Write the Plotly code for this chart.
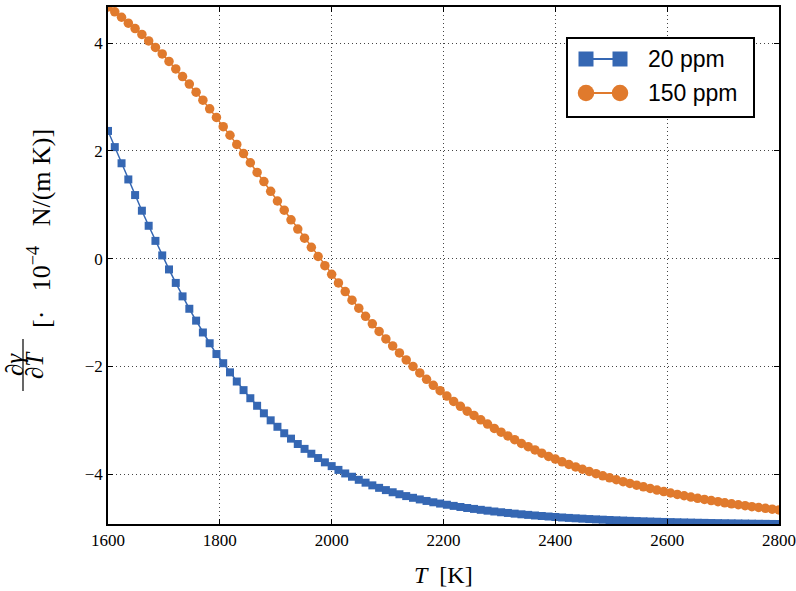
import plotly.graph_objects as go

# Temperature grid (K)
temperature_K = [
    1600.00, 1612.12, 1624.24, 1636.36, 1648.48, 1660.61, 1672.73, 1684.85, 1696.97, 1709.09,
    1721.21, 1733.33, 1745.45, 1757.58, 1769.70, 1781.82, 1793.94, 1806.06, 1818.18, 1830.30,
    1842.42, 1854.55, 1866.67, 1878.79, 1890.91, 1903.03, 1915.15, 1927.27, 1939.39, 1951.52,
    1963.64, 1975.76, 1987.88, 2000.00, 2012.12, 2024.24, 2036.36, 2048.48, 2060.61, 2072.73,
    2084.85, 2096.97, 2109.09, 2121.21, 2133.33, 2145.45, 2157.58, 2169.70, 2181.82, 2193.94,
    2206.06, 2218.18, 2230.30, 2242.42, 2254.55, 2266.67, 2278.79, 2290.91, 2303.03, 2315.15,
    2327.27, 2339.39, 2351.52, 2363.64, 2375.76, 2387.88, 2400.00, 2412.12, 2424.24, 2436.36,
    2448.48, 2460.61, 2472.73, 2484.85, 2496.97, 2509.09, 2521.21, 2533.33, 2545.45, 2557.58,
    2569.70, 2581.82, 2593.94, 2606.06, 2618.18, 2630.30, 2642.42, 2654.55, 2666.67, 2678.79,
    2690.91, 2703.03, 2715.15, 2727.27, 2739.39, 2751.52, 2763.64, 2775.76, 2787.88, 2800.00,
]

# d(gamma)/dT in units of 1e-4 N/(m K)
dgamma_20ppm = [
    2.37, 2.07, 1.77, 1.47, 1.18, 0.89, 0.61, 0.33, 0.06, -0.20,
    -0.45, -0.70, -0.93, -1.15, -1.37, -1.57, -1.77, -1.94, -2.11, -2.28,
    -2.44, -2.59, -2.73, -2.87, -3.00, -3.12, -3.24, -3.34, -3.44, -3.53,
    -3.62, -3.70, -3.78, -3.85, -3.92, -3.986, -4.047, -4.104, -4.157, -4.207,
    -4.253, -4.295, -4.335, -4.372, -4.406, -4.438, -4.468, -4.496, -4.521, -4.545,
    -4.567, -4.588, -4.608, -4.627, -4.644, -4.661, -4.677, -4.692, -4.706, -4.719,
    -4.732, -4.744, -4.755, -4.766, -4.776, -4.785, -4.794, -4.803, -4.811, -4.818,
    -4.825, -4.832, -4.838, -4.844, -4.850, -4.855, -4.860, -4.865, -4.870, -4.874,
    -4.878, -4.882, -4.886, -4.889, -4.892, -4.895, -4.898, -4.901, -4.903, -4.906,
    -4.908, -4.910, -4.912, -4.914, -4.916, -4.918, -4.920, -4.921, -4.923, -4.924,
]

dgamma_150ppm = [
    4.67, 4.58, 4.48, 4.37, 4.27, 4.16, 4.04, 3.92, 3.80, 3.66,
    3.52, 3.38, 3.24, 3.09, 2.94, 2.78, 2.62, 2.45, 2.29, 2.12,
    1.95, 1.78, 1.60, 1.43, 1.25, 1.07, 0.90, 0.72, 0.55, 0.38,
    0.21, 0.04, -0.13, -0.29, -0.45, -0.61, -0.77, -0.92, -1.07, -1.21,
    -1.35, -1.49, -1.62, -1.75, -1.88, -2.00, -2.12, -2.24, -2.35, -2.45,
    -2.55, -2.65, -2.74, -2.83, -2.91, -2.99, -3.07, -3.15, -3.22, -3.29,
    -3.36, -3.43, -3.49, -3.55, -3.61, -3.67, -3.72, -3.77, -3.82, -3.865,
    -3.908, -3.950, -3.990, -4.029, -4.067, -4.103, -4.138, -4.172, -4.204, -4.235,
    -4.265, -4.294, -4.322, -4.349, -4.375, -4.400, -4.424, -4.447, -4.469, -4.490,
    -4.510, -4.530, -4.549, -4.567, -4.585, -4.602, -4.618, -4.634, -4.649, -4.662,
]

series_names = ["20 ppm", "150 ppm"]
x_ticks = [1600, 1800, 2000, 2200, 2400, 2600, 2800]
y_ticks = [-4, -2, 0, 2, 4]

BLUE = "#3567b3"
ORANGE = "#e07a2d"
SERIF = "Liberation Serif"
SANS = "Liberation Sans"

W, H = 796, 591
L, R, T, B = 108, 17, 7, 67
PW, PH = W - L - R, H - T - B


def fx(px):
    """Figure pixel x -> paper coordinate."""
    return (px - L) / PW


def fy(py):
    """Figure pixel y -> paper coordinate."""
    return (H - B - py) / PH


fig = go.Figure()
fig.add_trace(go.Scatter(
    x=temperature_K, y=dgamma_20ppm, mode="lines+markers", name=series_names[0],
    line=dict(color=BLUE, width=1.5),
    marker=dict(symbol="square", size=8, color=BLUE, line=dict(width=0)),
    showlegend=False,
))
fig.add_trace(go.Scatter(
    x=temperature_K, y=dgamma_150ppm, mode="lines+markers", name=series_names[1],
    line=dict(color=ORANGE, width=1.5),
    marker=dict(symbol="circle", size=9.5, color=ORANGE, line=dict(width=0)),
    showlegend=False,
))

axis_common = dict(
    automargin=False,
    showline=True, linecolor="black", linewidth=1.5, mirror="ticks",
    ticks="inside", ticklen=5, tickwidth=1, tickcolor="black",
    showgrid=True, gridcolor="#444444", gridwidth=1, griddash="1px,3px",
    zeroline=False,
    tickfont=dict(family=SERIF, size=17, color="black"),
)

fig.update_xaxes(
    range=[temperature_K[0], temperature_K[-1]],
    tickvals=x_ticks, ticktext=[str(v) for v in x_ticks],
    **axis_common,
)
fig.update_yaxes(
    range=[dgamma_20ppm[-1], dgamma_150ppm[0]],
    tickvals=y_ticks, ticktext=[("\u2212" if v < 0 else "") + str(abs(v)) for v in y_ticks],
    **axis_common,
)

shapes = []
annotations = []

# x-axis title
annotations.append(dict(
    x=fx(443), y=fy(575), xref="paper", yref="paper", showarrow=False,
    text="<i>T</i>  [K]", font=dict(family=SERIF, size=24, color="black"),
    xanchor="center", yanchor="middle",
))

# y-axis title: fraction d(gamma)/dT followed by units, rotated
annotations.append(dict(
    x=fx(14), y=fy(365), xref="paper", yref="paper", showarrow=False,
    text="\u2202<i>\u03b3</i>", textangle=-90,
    font=dict(family=SERIF, size=25, color="black"),
    xanchor="center", yanchor="middle",
))
annotations.append(dict(
    x=fx(34), y=fy(365), xref="paper", yref="paper", showarrow=False,
    text="\u2202<i>T</i>", textangle=-90,
    font=dict(family=SERIF, size=25, color="black"),
    xanchor="center", yanchor="middle",
))
shapes.append(dict(
    type="line", xref="paper", yref="paper",
    x0=fx(23), x1=fx(23), y0=fy(339), y1=fy(391),
    line=dict(color="black", width=1.2),
))
annotations.append(dict(
    x=fx(39), y=fy(229), xref="paper", yref="paper", showarrow=False,
    text="[\u00b7\u2002 10<sup>\u22124</sup>\u2002 N/(m K)]", textangle=-90,
    font=dict(family=SERIF, size=26, color="black"),
    xanchor="center", yanchor="middle",
))

# legend box
shapes.append(dict(
    type="rect", xref="paper", yref="paper",
    x0=fx(567), x1=fx(754), y0=fy(117), y1=fy(38),
    line=dict(color="black", width=2), fillcolor="white", layer="above",
))
legend_rows = [
    (59, BLUE, "rect", 15, series_names[0]),
    (93, ORANGE, "circle", 16.5, series_names[1]),
]
for row_y, color, kind, size, label in legend_rows:
    shapes.append(dict(
        type="line", xref="paper", yref="paper",
        x0=fx(586), x1=fx(620), y0=fy(row_y), y1=fy(row_y),
        line=dict(color=color, width=2), layer="above",
    ))
    for cx in (586, 620):
        shapes.append(dict(
            type=kind, xref="paper", yref="paper",
            x0=fx(cx - size / 2), x1=fx(cx + size / 2),
            y0=fy(row_y + size / 2), y1=fy(row_y - size / 2),
            line=dict(width=0), fillcolor=color, layer="above",
        ))
    annotations.append(dict(
        x=fx(646), y=fy(row_y), xref="paper", yref="paper", showarrow=False,
        text=label, font=dict(family=SANS, size=23, color="black"),
        xanchor="left", yanchor="middle",
    ))

fig.update_layout(
    width=W, height=H,
    margin=dict(l=L, r=R, t=T, b=B, pad=0),
    plot_bgcolor="white", paper_bgcolor="white",
    showlegend=False,
    shapes=shapes, annotations=annotations,
)

fig.write_html("out.html")
